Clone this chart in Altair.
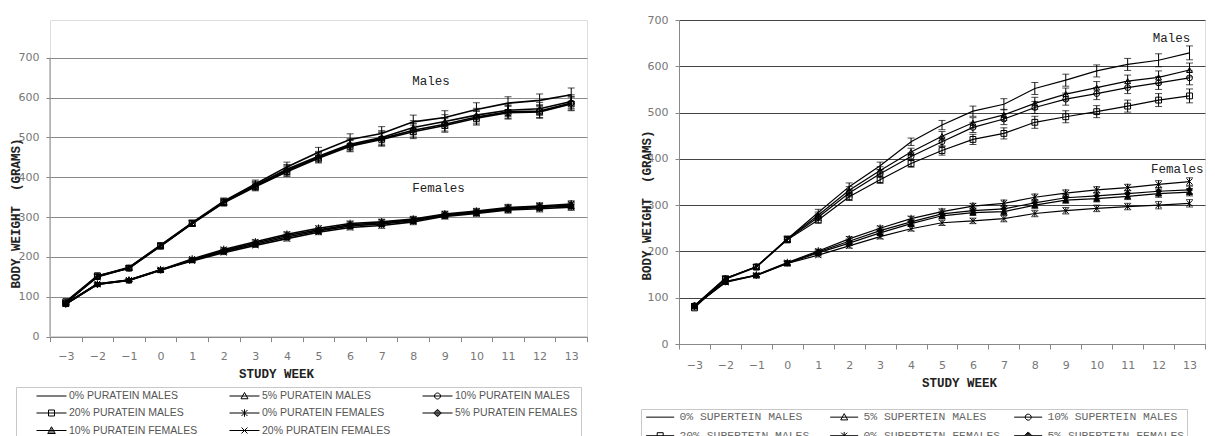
import altair as alt
import pandas as pd

weeks = list(range(-3, 14))
y_ticks = [0, 100, 200, 300, 400, 500, 600, 700]

# ---- Left panel: PURATEIN ----
p_series = ["0% PURATEIN MALES", "5% PURATEIN MALES", "10% PURATEIN MALES",
            "20% PURATEIN MALES", "0% PURATEIN FEMALES", "5% PURATEIN FEMALES",
            "10% PURATEIN FEMALES", "20% PURATEIN FEMALES"]
p_m0 = [85, 152, 174, 230, 286, 340, 383, 426, 463, 495, 510, 539, 550, 570, 586, 593, 607]
p_m5 = [85, 150, 173, 229, 285, 339, 380, 420, 453, 483, 500, 525, 540, 556, 568, 572, 590]
p_m10 = [86, 151, 172, 228, 284, 337, 378, 417, 450, 480, 497, 518, 533, 551, 564, 566, 586]
p_m20 = [88, 153, 172, 227, 284, 336, 376, 414, 448, 478, 495, 514, 530, 548, 562, 564, 584]
p_f0 = [82, 132, 142, 168, 195, 219, 238, 257, 272, 284, 288, 295, 308, 315, 324, 328, 333]
p_f5 = [82, 131, 142, 167, 193, 216, 235, 254, 268, 281, 286, 293, 306, 313, 322, 326, 330]
p_f10 = [82, 132, 141, 167, 192, 214, 232, 250, 265, 278, 283, 291, 304, 311, 320, 324, 328]
p_f20 = [83, 133, 142, 168, 190, 211, 229, 246, 262, 274, 279, 288, 302, 309, 318, 321, 325]
p_err_m = [4, 5, 5, 6, 7, 8, 10, 12, 12, 14, 17, 17, 17, 17, 16, 16, 17]
p_err_f = [3, 3, 3, 4, 4, 5, 5, 6, 6, 6, 7, 7, 7, 7, 8, 8, 8]

# ---- Right panel: SUPERTEIN ----
s_series = ["0% SUPERTEIN MALES", "5% SUPERTEIN MALES", "10% SUPERTEIN MALES",
            "20% SUPERTEIN MALES", "0% SUPERTEIN FEMALES", "5% SUPERTEIN FEMALES",
            "10% SUPERTEIN FEMALES", "20% SUPERTEIN FEMALES"]
s_m0 = [83, 142, 167, 227, 284, 340, 385, 437, 473, 503, 518, 552, 570, 590, 604, 613, 629]
s_m5 = [83, 142, 167, 227, 278, 332, 375, 415, 449, 478, 495, 520, 540, 554, 568, 576, 592]
s_m10 = [83, 141, 167, 226, 274, 326, 368, 405, 437, 468, 486, 511, 529, 541, 554, 564, 575]
s_m20 = [78, 140, 166, 225, 268, 318, 355, 390, 418, 442, 455, 479, 491, 502, 514, 527, 536]
s_f0 = [82, 135, 149, 176, 201, 227, 250, 271, 286, 298, 304, 317, 326, 333, 338, 345, 351]
s_f5 = [82, 135, 149, 175, 199, 222, 245, 264, 281, 288, 292, 305, 316, 320, 325, 330, 333]
s_f10 = [82, 134, 148, 174, 197, 218, 240, 260, 277, 284, 286, 300, 311, 314, 319, 325, 328]
s_f20 = [82, 133, 148, 174, 192, 212, 232, 249, 262, 266, 271, 282, 288, 293, 297, 300, 304]
s_err_m = [4, 5, 5, 6, 7, 8, 8, 8, 10, 11, 12, 13, 13, 13, 13, 14, 15]
s_err_f = [3, 3, 3, 4, 4, 5, 5, 5, 6, 6, 7, 7, 7, 7, 7, 8, 8]

marker_kinds = ["none", "tri_open", "circle_open", "square_open",
                "asterisk", "diamond_filled", "tri_filled", "xmark"]

# ---- styles ----
plot_shape = {
    "none": "M0,0",
    "tri_open": "triangle-up",
    "circle_open": "circle",
    "square_open": "square",
    "asterisk": "M-1,-1L1,1M-1,1L1,-1M0,-1.3V1.3",
    "diamond_filled": "diamond",
    "tri_filled": "triangle-up",
    "xmark": "M-1,-1L1,1M-1,1L1,-1",
}
plot_fill = {
    "none": "transparent", "tri_open": "transparent", "circle_open": "transparent",
    "square_open": "transparent", "asterisk": "transparent", "diamond_filled": "black",
    "tri_filled": "black", "xmark": "transparent",
}


def legend_path(kind, x0, x1):
    c = (x0 + x1) / 2.0

    def p(dx, dy):
        return f"{c + dx:.2f},{dy:.2f}"
    line = f"M{x0:.2f},0H{x1:.2f}"
    marks = {
        "none": "",
        "tri_open": f"M{p(0, -0.7)}L{p(0.7, 0.55)}L{p(-0.7, 0.55)}Z",
        "circle_open": f"M{p(0.6, 0)}A0.6,0.6 0 1 1 {p(-0.6, 0)}A0.6,0.6 0 1 1 {p(0.6, 0)}",
        "square_open": f"M{p(-0.6, -0.6)}L{p(0.6, -0.6)}L{p(0.6, 0.6)}L{p(-0.6, 0.6)}Z",
        "asterisk": f"M{p(-0.6, -0.6)}L{p(0.6, 0.6)}M{p(-0.6, 0.6)}L{p(0.6, -0.6)}M{p(0, -0.75)}L{p(0, 0.75)}",
        "diamond_filled": (f"M{p(0, -0.75)}L{p(0.75, 0)}L{p(0, 0.75)}L{p(-0.75, 0)}Z"
                           f"M{p(-0.5, -0.2)}L{p(0.5, -0.2)}M{p(-0.5, 0.2)}L{p(0.5, 0.2)}"
                           f"M{p(-0.25, -0.45)}L{p(0.25, -0.45)}M{p(-0.25, 0.45)}L{p(0.25, 0.45)}"),
        "tri_filled": (f"M{p(0, -0.75)}L{p(0.75, 0.6)}L{p(-0.75, 0.6)}Z"
                       f"M{p(-0.5, 0.3)}L{p(0.5, 0.3)}M{p(-0.35, 0)}L{p(0.35, 0)}"
                       f"M{p(-0.2, -0.3)}L{p(0.2, -0.3)}"),
        "xmark": f"M{p(-0.6, -0.6)}L{p(0.6, 0.6)}M{p(-0.6, 0.6)}L{p(0.6, -0.6)}",
    }
    return line + marks[kind]


def long_df(series, vals, errs):
    rows = []
    for name, v, e in zip(series, vals, errs):
        for w, val, er in zip(weeks, v, e):
            rows.append({"week": w, "value": val, "lo": val - er, "hi": val + er, "series": name})
    return pd.DataFrame(rows)


p_df = long_df(p_series, [p_m0, p_m5, p_m10, p_m20, p_f0, p_f5, p_f10, p_f20],
               [p_err_m] * 4 + [p_err_f] * 4)
s_df = long_df(s_series, [s_m0, s_m5, s_m10, s_m20, s_f0, s_f5, s_f10, s_f20],
               [s_err_m] * 4 + [s_err_f] * 4)

week_bounds = [w - 0.5 for w in weeks] + [weeks[-1] + 0.5]


def panel(df, series, width, height, ymax, axis_domain, grid_color, line_w,
          ytitle_xy, xtitle_x, x_label_pad, sym_span, legend_opts, annos):
    xaxis_lab = alt.Axis(title="STUDY WEEK", orient="bottom", values=weeks, ticks=False,
                         domain=False, grid=False,
                         labelExpr="replace(datum.label, '-', '\u2212')", labelAngle=0,
                         labelFont="DejaVu Sans", labelFontSize=11, labelColor="#777",
                         labelPadding=x_label_pad, labelFlush=False,
                         titleFont="Liberation Mono", titleFontWeight="bold", titleFontSize=12.5,
                         titleColor="#222", titlePadding=6, titleX=xtitle_x)
    xaxis_tick = alt.Axis(title=None, orient="bottom", values=week_bounds, labels=False,
                          ticks=True, tickSize=5, tickColor="#888", domain=True,
                          domainColor="#888", grid=False)
    yaxis = alt.Axis(title="BODY WEIGHT\u00a0 (GRAMS)", values=y_ticks, grid=True,
                     gridColor=grid_color, gridWidth=1, domain=axis_domain, domainColor="#888",
                     tickSize=4, tickColor="#888", labelFont="DejaVu Sans", labelFontSize=11,
                     labelColor="#777", labelPadding=7,
                     titleFont="Liberation Mono", titleFontWeight="bold", titleFontSize=12.5,
                     titleColor="#222", titleAngle=270, titleBaseline="middle",
                     titleX=ytitle_xy[0], titleY=ytitle_xy[1])
    xs = alt.Scale(domain=[weeks[0] - 0.5, weeks[-1] + 0.5], nice=False, zero=False)
    ys = alt.Scale(domain=[0, ymax], nice=False, zero=True)

    def Y(field):
        return alt.Y(field, scale=ys, axis=yaxis)

    shapes = [plot_shape[k] for k in marker_kinds]
    fills = [plot_fill[k] for k in marker_kinds]
    lpaths = [legend_path(k, sym_span[0], sym_span[1]) for k in marker_kinds]

    base = alt.Chart(df)
    lines = base.mark_line(color="black", strokeWidth=line_w).encode(
        x=alt.X("week:Q", scale=xs, axis=xaxis_lab), y=Y("value:Q"), detail="series:N")
    rules = base.mark_rule(color="black", strokeWidth=1).encode(
        x=alt.X("week:Q", scale=xs, axis=xaxis_tick), y=Y("lo:Q"), y2="hi:Q")
    caps_hi = base.mark_tick(color="black", size=7, thickness=1, orient="horizontal").encode(
        x=alt.X("week:Q", scale=xs, axis=None), y=Y("hi:Q"))
    caps_lo = base.mark_tick(color="black", size=7, thickness=1, orient="horizontal").encode(
        x=alt.X("week:Q", scale=xs, axis=None), y=Y("lo:Q"))
    points = base.mark_point(stroke="black", strokeWidth=1, size=34, opacity=1).encode(
        x=alt.X("week:Q", scale=xs, axis=None), y=Y("value:Q"),
        shape=alt.Shape("series:N", scale=alt.Scale(domain=series, range=shapes), legend=None),
        fill=alt.Fill("series:N", scale=alt.Scale(domain=series, range=fills), legend=None))
    # invisible layer that only carries the legend (kept at week 0, well inside the plot)
    leg = base.transform_filter(alt.datum.week == 0).mark_point(
        opacity=0, stroke="black", size=1).encode(
        x=alt.X("week:Q", scale=xs, axis=None), y=Y("value:Q"),
        shape=alt.Shape("series:N", scale=alt.Scale(domain=series, range=lpaths),
                        legend=alt.Legend(title=None, columns=3, direction="horizontal",
                                          gridAlign="all",
                                          symbolSize=100, symbolStrokeColor="black",
                                          symbolStrokeWidth=1, symbolFillColor="transparent",
                                          symbolOpacity=1, labelLimit=400,
                                          strokeColor="#c8c8c8", fillColor="white",
                                          **legend_opts)))
    layers = [lines, rules, caps_hi, caps_lo, points, leg]
    if not axis_domain:
        ax = alt.Chart(pd.DataFrame({"a": [0], "b": [700]})).mark_rule(
            color="#888", strokeWidth=1).encode(
            x=alt.value(0), y=Y("a:Q"), y2="b:Q")
        layers.append(ax)
    for txt, wk, val in annos:
        layers.append(alt.Chart(pd.DataFrame({"t": [txt]})).mark_text(
            font="Liberation Mono", fontSize=12.5, color="#222").encode(
            x=alt.X(datum=wk, scale=xs, axis=None, type="quantitative"),
            y=alt.Y(datum=val, scale=ys, axis=yaxis, type="quantitative"),
            text="t:N"))
    return alt.layer(*layers).resolve_scale(shape="independent").resolve_axis(
        x="independent").properties(width=width, height=height)


left = panel(
    p_df, p_series, 537, 316.7, 794.6, False, "#8a8a8a", 1.6,
    (-35, 193), 226, 14, (2.4, 8.4),
    dict(orient="none", legendX=-34, legendY=367, columnPadding=14, rowPadding=4.5,
         padding=3, labelFont="Liberation Sans", labelFontSize=10.5, labelColor="#555",
         labelOffset=39),
    [("Males", 8.56, 641), ("Females", 8.8, 373)])

right = panel(
    s_df, s_series, 526, 324, 700, True, "#444", 1.2,
    (-33, 185), 280, 15, (-0.5, 5.1),
    dict(orient="none", legendX=-38, legendY=389, columnPadding=4, rowPadding=6,
         padding=2, labelFont="Liberation Mono", labelFontSize=11.4, labelColor="#666",
         labelOffset=25),
    [("Males", 12.42, 661), ("Females", 12.6, 378)])

chart = alt.hconcat(left, right, spacing=51).resolve_scale(
    shape="independent", fill="independent").properties(
    padding={"left": 0, "top": 5, "right": 0, "bottom": 0}
).configure_view(strokeWidth=0).configure(background="white")

chart.save("out.html", embed_options={"renderer": "svg", "actions": False})
